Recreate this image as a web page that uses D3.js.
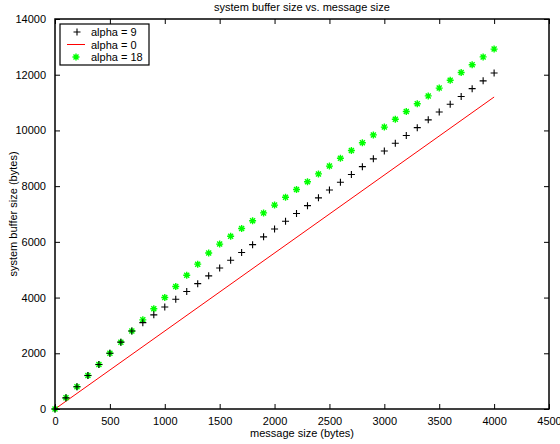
<!DOCTYPE html>
<html>
<head>
<meta charset="utf-8">
<script src="https://cdn.jsdelivr.net/npm/d3@7"></script>
<style>
  body { margin: 0; background: #fff; }
  text { font-family: "Liberation Sans", Arial, sans-serif; }
</style>
</head>
<body>
<div id="chart"></div>
<script>
var W = 560, H = 444;
var margin = {top: 19, right: 11, bottom: 35, left: 55};
var width = W - margin.left - margin.right;
var height = H - margin.top - margin.bottom;

// message size (bytes)
var msgSize = [0, 100, 200, 300, 400, 500, 600, 700, 800, 900, 1000, 1100, 1200, 1300, 1400,
  1500, 1600, 1700, 1800, 1900, 2000, 2100, 2200, 2300, 2400, 2500, 2600, 2700, 2800, 2900,
  3000, 3100, 3200, 3300, 3400, 3500, 3600, 3700, 3800, 3900, 4000];
// alpha = 9
var alpha9 = [0, 400, 800, 1200, 1600, 2000, 2400, 2800, 3100, 3380, 3660, 3940, 4220, 4500, 4780,
  5060, 5340, 5620, 5900, 6180, 6460, 6740, 7020, 7300, 7580, 7860, 8140, 8420, 8700, 8980,
  9260, 9540, 9820, 10100, 10380, 10660, 10940, 11220, 11500, 11780, 12060];
// alpha = 18
var alpha18 = [0, 400, 800, 1200, 1600, 2000, 2400, 2800, 3200, 3600, 4000, 4400, 4800, 5200, 5600,
  5920, 6200, 6480, 6760, 7040, 7320, 7600, 7880, 8160, 8440, 8720, 9000, 9280, 9560, 9840,
  10120, 10400, 10680, 10960, 11240, 11520, 11800, 12080, 12360, 12640, 12920];
// alpha = 0 (line)
var alpha0X = [0, 4000];
var alpha0Y = [0, 11200];

var xTicks = [0, 500, 1000, 1500, 2000, 2500, 3000, 3500, 4000, 4500];
var yTicks = [0, 2000, 4000, 6000, 8000, 10000, 12000, 14000];
var legendLabels = ["alpha = 9", "alpha = 0", "alpha = 18"];

var svg = d3.select("#chart").append("svg")
  .attr("width", W).attr("height", H);

var g = svg.append("g")
  .attr("transform", "translate(" + margin.left + "," + margin.top + ")");

var x = d3.scaleLinear().domain([0, 4500]).range([0, width]);
var y = d3.scaleLinear().domain([0, 14000]).range([height, 0]);

// red line
var line = d3.line().x(function(d) { return x(d[0]); }).y(function(d) { return y(d[1]); });
g.append("path")
  .datum(alpha0X.map(function(v, i) { return [v, alpha0Y[i]]; }))
  .attr("d", line)
  .attr("fill", "none")
  .attr("stroke", "#ff0000")
  .attr("stroke-width", 1);

var plusPath = "M-3.5,0H3.5M0,-3.5V3.5";
var starPath = "M-3.5,0H3.5M0,-3.5V3.5M-2.5,-2.5L2.5,2.5M-2.5,2.5L2.5,-2.5";

// alpha = 18 stars
g.selectAll(".star")
  .data(msgSize)
  .enter().append("path")
  .attr("class", "star")
  .attr("transform", function(d, i) { return "translate(" + x(d) + "," + y(alpha18[i]) + ")"; })
  .attr("d", starPath)
  .attr("stroke", "#00ff00")
  .attr("stroke-width", 1.4)
  .attr("fill", "none");

// alpha = 9 plus
g.selectAll(".plus")
  .data(msgSize)
  .enter().append("path")
  .attr("class", "plus")
  .attr("transform", function(d, i) { return "translate(" + x(d) + "," + y(alpha9[i]) + ")"; })
  .attr("d", plusPath)
  .attr("stroke", "#000")
  .attr("stroke-width", 1.1)
  .attr("fill", "none");

// axes (ticks inward, matlab style)
function styleAxis(sel) {
  sel.select(".domain").remove();
  sel.selectAll("line").attr("stroke", "#000");
  sel.selectAll("text").attr("fill", "#000").style("font-size", "11px");
}
g.append("g")
  .attr("transform", "translate(0," + height + ")")
  .call(d3.axisBottom(x).tickValues(xTicks).tickFormat(d3.format("d")).tickSizeInner(-5).tickPadding(8))
  .call(styleAxis);
g.append("g")
  .call(d3.axisLeft(y).tickValues(yTicks).tickFormat(d3.format("d")).tickSizeInner(-5).tickPadding(9))
  .call(styleAxis);
g.append("g")
  .call(d3.axisTop(x).tickValues(xTicks).tickFormat("").tickSizeInner(-5))
  .call(styleAxis);
g.append("g")
  .attr("transform", "translate(" + width + ",0)")
  .call(d3.axisRight(y).tickValues(yTicks).tickFormat("").tickSizeInner(-5))
  .call(styleAxis);

// frame
g.append("rect")
  .attr("width", width).attr("height", height)
  .attr("fill", "none").attr("stroke", "#000").attr("stroke-width", 1.5);

// title and labels
svg.append("text")
  .attr("x", margin.left + width / 2).attr("y", 11)
  .attr("text-anchor", "middle").style("font-size", "11px")
  .text("system buffer size vs. message size");
svg.append("text")
  .attr("x", margin.left + width / 2).attr("y", 437)
  .attr("text-anchor", "middle").style("font-size", "11px")
  .text("message size (bytes)");
svg.append("text")
  .attr("transform", "translate(17," + (margin.top + height / 2) + ") rotate(-90)")
  .attr("text-anchor", "middle").style("font-size", "11px")
  .text("system buffer size (bytes)");

// legend
var lg = svg.append("g").attr("transform", "translate(60,24)");
lg.append("rect")
  .attr("width", 89).attr("height", 41)
  .attr("fill", "#fff").attr("stroke", "#000").attr("stroke-width", 1.2);
var rows = lg.selectAll(".row").data(legendLabels).enter().append("g")
  .attr("transform", function(d, i) { return "translate(0," + (8 + i * 12.5) + ")"; });
rows.append("text")
  .attr("x", 31).attr("y", 4)
  .style("font-size", "11px")
  .text(function(d) { return d; });
rows.filter(function(d, i) { return i === 0; }).append("path")
  .attr("transform", "translate(17,0)").attr("d", plusPath)
  .attr("stroke", "#000").attr("stroke-width", 1.1);
rows.filter(function(d, i) { return i === 1; }).append("line")
  .attr("x1", 7).attr("x2", 25).attr("stroke", "#ff0000");
rows.filter(function(d, i) { return i === 2; }).append("path")
  .attr("transform", "translate(16,0)").attr("d", starPath)
  .attr("stroke", "#00ff00").attr("stroke-width", 1.4);
</script>
</body>
</html>
